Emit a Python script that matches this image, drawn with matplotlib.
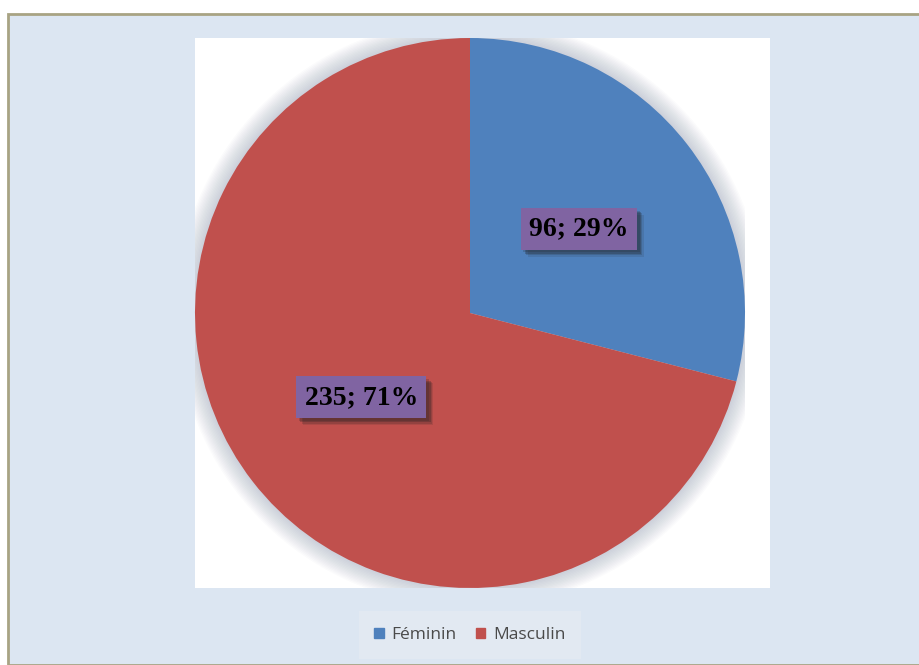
import matplotlib.pyplot as plt
import matplotlib.patches as mpatches
import matplotlib.patheffects as pe

# data
categories = ['Féminin', 'Masculin']
counts = [96, 235]
colors = ['#4F81BD', '#C0504D']

W, H = 920, 665
fig = plt.figure(figsize=(W / 100, H / 100), dpi=100)
fig.patch.set_facecolor('white')

# light blue chart area with olive border
frame = mpatches.Rectangle((8 / W, 0), 1.0, 1 - 14 / H, transform=fig.transFigure,
                           facecolor='#DCE6F2', edgecolor='#A8A383', linewidth=2, zorder=-2)
fig.patches.append(frame)

# white plot area
plot_area = mpatches.Rectangle((195 / W, (H - 588) / H), 575 / W, 550 / H,
                               transform=fig.transFigure, facecolor='white',
                               edgecolor='none', zorder=-1)
fig.patches.append(plot_area)

ax = fig.add_axes([195 / W, (H - 588) / H, 550 / W, 550 / H])
ax.set_facecolor('none')
ax.set_zorder(5)

# soft glow behind the pie
for i in range(14):
    glow = mpatches.Circle((0, 0), 1.0 + 0.005 * (i + 1), transform=ax.transData,
                           facecolor='#8090A8', edgecolor='none', alpha=0.03, zorder=0)
    ax.add_patch(glow)

total = sum(counts)


def fmt(pct):
    val = int(round(pct * total / 100.0))
    return '{}; {:.0f}%'.format(val, pct)


wedges, texts, autotexts = ax.pie(counts, colors=colors, startangle=90, counterclock=False,
                                  autopct=fmt, pctdistance=0.5, radius=1.0,
                                  wedgeprops=dict(linewidth=0, zorder=2))

# blurred-looking drop shadow for the label boxes
shadow = []
for dx, dy, a in [(5, -5, 0.12), (4, -4, 0.18), (3, -3, 0.25), (2, -2, 0.2)]:
    shadow.append(pe.SimplePatchShadow(offset=(dx, dy), shadow_rgbFace='#222222', alpha=a))
shadow.append(pe.Normal())

for t in autotexts:
    t.set_fontfamily('Liberation Serif')
    t.set_fontweight('bold')
    t.set_fontsize(20)
    t.set_color('black')
    t.set_zorder(5)
    t.set_bbox(dict(boxstyle='square,pad=0.3', facecolor='#8064A2', edgecolor='none'))
    t.get_bbox_patch().set_path_effects(shadow)

ax.set_xlim(-1, 1)
ax.set_ylim(-1, 1)
ax.set_aspect('equal')
ax.axis('off')

handles = [mpatches.Patch(color=c, label=l) for c, l in zip(colors, categories)]
leg = fig.legend(handles=handles, loc='center', bbox_to_anchor=(470 / W, 1 - 635 / H),
                 ncol=2, frameon=True, handlelength=0.55, handleheight=0.55,
                 handletextpad=0.45, columnspacing=1.1, borderpad=0.6, borderaxespad=0,
                 prop={'family': 'Open Sans', 'size': 12.5})
leg.get_frame().set_facecolor('#E4EAF3')
leg.get_frame().set_edgecolor('none')
leg.get_frame().set_boxstyle('square')
for t in leg.get_texts():
    t.set_color('#4A4A4A')

fig.savefig('out.png', dpi=100, facecolor=fig.get_facecolor())
